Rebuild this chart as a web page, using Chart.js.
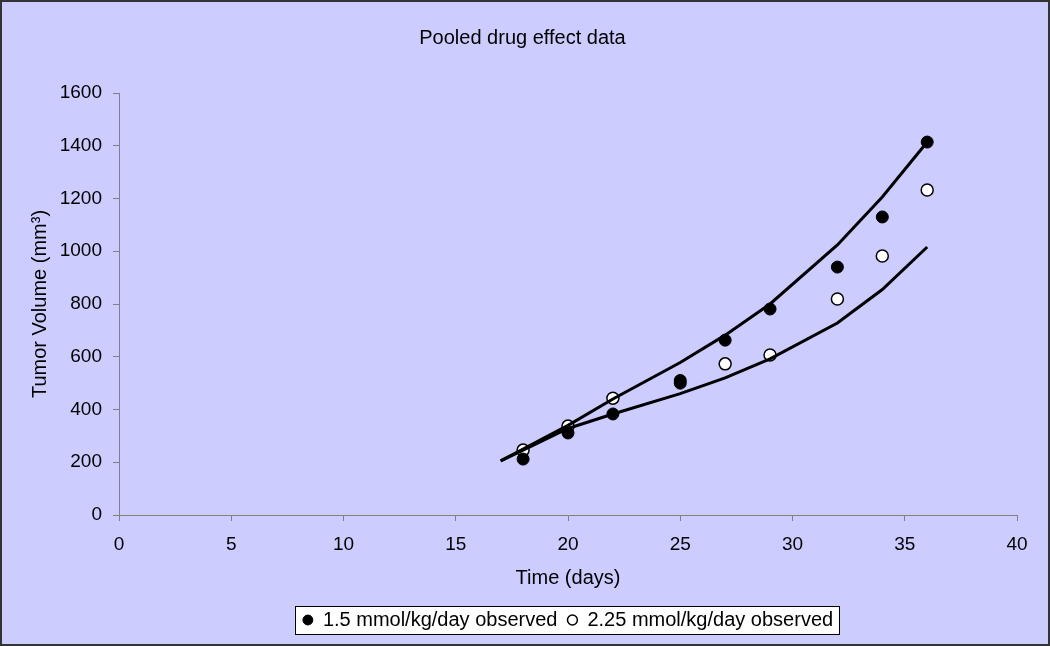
<!DOCTYPE html>
<html>
<head>
<meta charset="utf-8">
<script src="https://cdn.jsdelivr.net/npm/chart.js@4/dist/chart.umd.min.js"></script>
<style>
  html, body { margin: 0; padding: 0; background: #ccccff; }
  #wrap { width: 1050px; height: 646px; position: relative; }
</style>
</head>
<body>
<div id="wrap"><canvas id="tumorChart"></canvas></div>
<script>
const highDoseDays = [18, 20, 22, 25, 25, 27, 29, 32, 34, 36];
const highDoseObs = [212, 311, 383, 500, 510, 663, 781, 940, 1130, 1414];
const lowDoseDays = [18, 20, 22, 27, 29, 32, 34, 36];
const lowDoseObs = [246, 337, 443, 573, 607, 819, 982, 1232];

// model curves
const modelDays = [17, 18, 20, 22, 25, 27, 29, 32, 34, 36];
const modelUpper = [205, 250, 340, 440, 578, 682, 800, 1024, 1206, 1414];
const modelLower = [205, 246, 328, 383, 460, 520, 592, 728, 855, 1016];

const xTicks = [0, 5, 10, 15, 20, 25, 30, 35, 40];
const yTicks = [0, 200, 400, 600, 800, 1000, 1200, 1400, 1600];

const FONT = 'Arial, "Liberation Sans", sans-serif';
const toPoints = (xs, ys) => xs.map((x, i) => ({ x: x, y: ys[i] }));

// background + frame, and the boxed legend
const framePlugin = {
    id: 'frame',
    beforeDraw(chart) {
        const { ctx, width, height } = chart;
        ctx.save();
        ctx.fillStyle = '#ccccff';
        ctx.fillRect(0, 0, width, height);
        ctx.strokeStyle = '#333333';
        ctx.lineWidth = 2;
        ctx.strokeRect(1, 1, width - 2, height - 2);

        const boxes = chart.legend && chart.legend.legendHitBoxes;
        if (boxes && boxes.length) {
            const first = boxes[0];
            const last = boxes[boxes.length - 1];
            const x0 = first.left - 8;
            const x1 = last.left + last.width + 6;
            const y0 = first.top - 4;
            const h = first.height + 8;
            ctx.fillStyle = '#ffffff';
            ctx.fillRect(x0, y0, x1 - x0, h);
            ctx.strokeStyle = '#000000';
            ctx.lineWidth = 1;
            ctx.strokeRect(Math.round(x0) + 0.5, Math.round(y0) + 0.5, Math.round(x1 - x0), Math.round(h));
        }
        ctx.restore();
    }
};

const ctx = document.getElementById('tumorChart');
new Chart(ctx, {
    type: 'scatter',
    data: {
        datasets: [
            {
                label: 'fit 1.5',
                data: toPoints(modelDays, modelUpper),
                showLine: true,
                borderColor: '#000000',
                borderWidth: 3,
                pointRadius: 0,
                tension: 0
            },
            {
                label: 'fit 2.25',
                data: toPoints(modelDays, modelLower),
                showLine: true,
                borderColor: '#000000',
                borderWidth: 3,
                pointRadius: 0,
                tension: 0
            },
            {
                label: '1.5 mmol/kg/day observed',
                data: toPoints(highDoseDays, highDoseObs),
                backgroundColor: '#000000',
                borderColor: '#000000',
                borderWidth: 1,
                pointRadius: 6
            },
            {
                label: '2.25 mmol/kg/day observed',
                data: toPoints(lowDoseDays, lowDoseObs),
                backgroundColor: '#ffffff',
                borderColor: '#000000',
                borderWidth: 1.5,
                pointRadius: 6
            }
        ]
    },
    options: {
        responsive: true,
        maintainAspectRatio: false,
        animation: false,
        layout: {
            padding: { left: 28, right: 33, top: 6, bottom: 6 }
        },
        plugins: {
            title: {
                display: true,
                text: 'Pooled drug effect data',
                color: '#000000',
                font: { family: FONT, size: 20, weight: 'normal' },
                padding: { top: 20, bottom: 43 }
            },
            legend: {
                position: 'bottom',
                fullSize: false,
                labels: {
                    color: '#000000',
                    font: { family: FONT, size: 20 },
                    usePointStyle: true,
                    pointStyle: 'circle',
                    boxWidth: 10,
                    boxHeight: 7,
                    padding: 10,
                    filter: (item) => item.datasetIndex >= 2
                }
            },
            tooltip: { enabled: false }
        },
        scales: {
            x: {
                type: 'linear',
                min: 0,
                max: 40,
                afterBuildTicks: (scale) => {
                    scale.ticks = xTicks.map(v => ({ value: v }));
                },
                afterFit: (scale) => { scale.height = 85; },
                ticks: {
                    color: '#000000',
                    font: { family: FONT, size: 19 },
                    padding: 12,
                    callback: (v) => String(v)
                },
                grid: {
                    display: true,
                    drawOnChartArea: false,
                    drawTicks: true,
                    tickLength: 6,
                    color: '#808080'
                },
                border: { display: true, color: '#808080', width: 1 },
                title: {
                    display: true,
                    text: 'Time (days)',
                    color: '#000000',
                    font: { family: FONT, size: 20 },
                    padding: { top: 10, bottom: 10 }
                }
            },
            y: {
                type: 'linear',
                min: 0,
                max: 1600,
                afterBuildTicks: (scale) => {
                    scale.ticks = yTicks.map(v => ({ value: v }));
                },
                afterFit: (scale) => { scale.width = 91; },
                ticks: {
                    color: '#000000',
                    font: { family: FONT, size: 19 },
                    padding: 11,
                    callback: (v) => String(v)
                },
                grid: {
                    display: true,
                    drawOnChartArea: false,
                    drawTicks: true,
                    tickLength: 6,
                    color: '#808080'
                },
                border: { display: true, color: '#808080', width: 1 },
                title: {
                    display: true,
                    text: 'Tumor Volume (mm³)',
                    color: '#000000',
                    font: { family: FONT, size: 20 },
                    padding: { top: 0, bottom: 8 }
                }
            }
        }
    },
    plugins: [framePlugin]
});
</script>
</body>
</html>
